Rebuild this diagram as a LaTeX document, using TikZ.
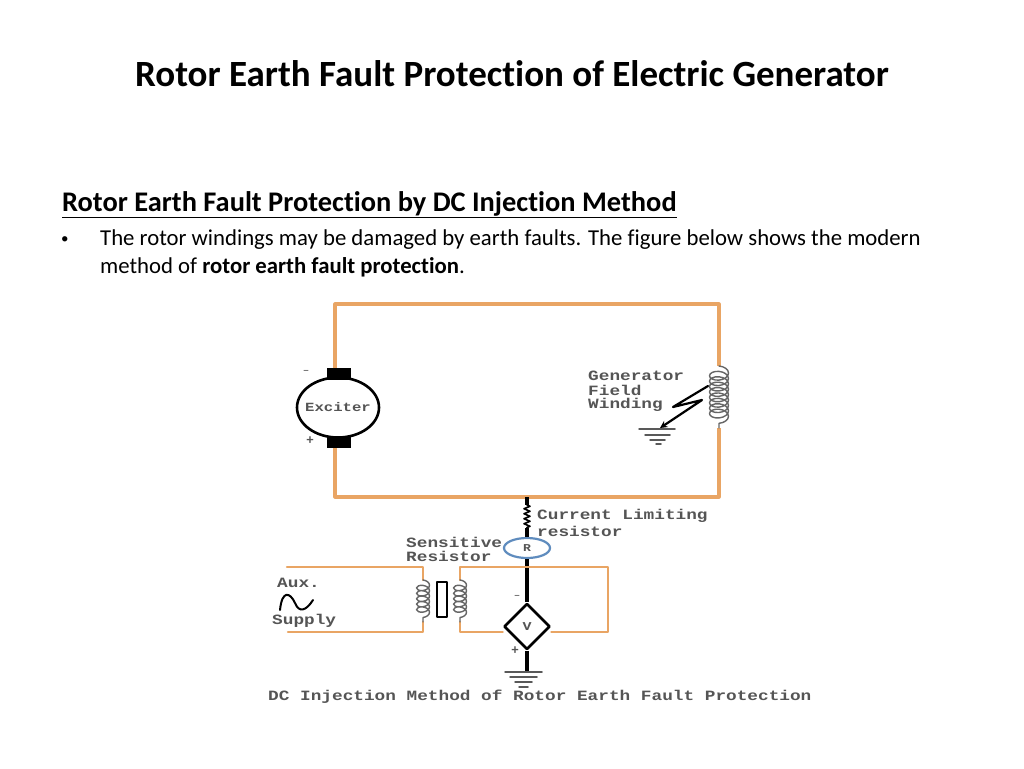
\documentclass[tikz,border=0pt]{standalone}
\usepackage{fontspec}
\setmainfont[Ligatures=NoCommon]{Carlito}
\newfontfamily\circfont[FakeStretch=1.25]{Liberation Mono}
\usetikzlibrary{shapes.geometric,decorations.pathmorphing}
\definecolor{wirecol}{RGB}{233,165,100}
\definecolor{labelcol}{RGB}{85,85,85}
\definecolor{relaycol}{RGB}{95,140,190}
\tikzset{
	wire/.style={draw=wirecol,line width=3.2pt,line cap=butt},
	thinwire/.style={draw=wirecol,line width=2.2pt},
	lead/.style={draw=black,line width=3.4pt,line cap=butt},
	circlabel/.style={font=\circfont\bfseries\fontsize{14.2}{14.2}\selectfont,text=labelcol,inner sep=0pt,anchor=west},
	brush/.style={fill=black,draw=none,minimum width=24pt,minimum height=11.5pt,inner sep=0pt},
	gnd/.style={draw=black!65,line width=1.5pt},
	woundcoil/.style={draw=black!60,line width=1.4pt,decorate,decoration={coil,aspect=.6,segment length=5.4pt,amplitude=#1}},
	bodytext/.style={font=\fontsize{22.75}{22.75}\selectfont,inner sep=0pt,anchor=base west}
}
\begin{document}
\begin{tikzpicture}[x=1pt,y=-1pt,line join=round,line cap=round,>=stealth]
	\useasboundingbox[fill=white] (0,0) rectangle (1024,768);
	% heading texts
	\node[font=\fontsize{37}{37}\selectfont\bfseries,inner sep=0pt] (title) at (512,74) {Rotor Earth Fault Protection of Electric Generator};
	\node[bodytext,font=\fontsize{28.4}{28.4}\selectfont\bfseries] (heading) at (62,211) {\underline{Rotor Earth Fault Protection by DC Injection Method}};
	\node[bodytext,font=\fontsize{15}{15}\selectfont] (bullet) at (61,243) {•};
	\node[bodytext] (lineone) at (100,245) {The rotor windings may be damaged by earth faults. The figure below shows the modern};
	\node[bodytext] (linetwo) at (100,273) {method of \textbf{rotor earth fault protection}.};
	% upper loop
	\node[draw,ellipse,line width=2.6pt,minimum width=82pt,minimum height=60pt,inner sep=0pt,label={[font=\circfont\bfseries\fontsize{12.5}{12.5}\selectfont,text=labelcol]center:Exciter}] (exciter) at (338,407.5) {};
	\node[brush] (brushtop) at (338.5,374) {};
	\node[brush] (brushbot) at (338.5,442.5) {};
	\coordinate (cornerA) at (335,304);
	\coordinate (cornerB) at (719,304);
	\coordinate (cornerC) at (719,497);
	\coordinate (cornerD) at (335,497);
	\coordinate (fieldtop) at (719,366);
	\coordinate (fieldbot) at (719,428);
	\coordinate (tap) at (527,497);
	\draw[wire] (brushtop.north-|cornerA) -- (cornerA) -- (cornerB) -- (fieldtop);
	\draw[wire] (fieldbot) -- (cornerC) -- (cornerD) -- (brushbot.south-|cornerD);
	\draw[woundcoil=9.5pt] (fieldtop) -- (fieldbot);
	\node[circlabel] (gentext) at (588,376) {Generator};
	\node[circlabel] (fieldtext) at (588,390) {Field};
	\node[circlabel] (windtext) at (588,405) {Winding};
	\coordinate (faultA) at (708,386);
	\coordinate (faultB) at (673,407);
	\coordinate (faultC) at (702,400);
	\coordinate (faultD) at (660,428);
	\draw[line width=2.2pt,->] (faultA) -- (faultB) -- (faultC) -- (faultD);
	\foreach \y/\a/\b in {429/639/675,435/645/670,440/650/665,444/656/661}
	\draw[gnd] (\a,\y) -- (\b,\y);
	\node[font=\fontsize{13}{13}\selectfont,text=labelcol,inner sep=0pt] (minusA) at (306,372) {--};
	\node[font=\fontsize{14}{14}\selectfont\bfseries,text=labelcol,inner sep=0pt] (plusA) at (310,441) {+};
	% lower branch
	\node[draw=relaycol,ellipse,line width=2.2pt,minimum width=46pt,minimum height=20pt,inner sep=0pt,font=\circfont\bfseries\fontsize{10.5}{10.5}\selectfont,text=labelcol] (relay) at (527,548) {R};
	\node[draw,diamond,line width=2.6pt,minimum width=46pt,minimum height=46pt,inner sep=0pt,font=\circfont\bfseries\fontsize{12}{12}\selectfont,text=labelcol] (meter) at (527,626.5) {V};
	\coordinate (resA) at (527,505);
	\coordinate (resB) at (527,528);
	\coordinate (gndtop) at (527,672);
	\draw[lead] (tap) -- (resA);
	\draw[line width=1.6pt,decorate,decoration={zigzag,amplitude=3pt,segment length=5pt}] (resA) -- (resB);
	\draw[lead] (resB) -- (relay.north);
	\draw[lead] (relay.south) -- (meter.north);
	\draw[lead] (meter.south) -- (gndtop);
	\foreach \y/\a/\b in {672/505/542,677/510/537,682/515/532,687/519/528}
	\draw[gnd] (\a,\y) -- (\b,\y);
	\node[circlabel] (currtext) at (537,516) {Current Limiting};
	\node[circlabel] (restext) at (537,531) {resistor};
	\node[circlabel] (senstext) at (406,542) {Sensitive};
	\node[circlabel] (sensres) at (406,556) {Resistor};
	\node[font=\fontsize{13}{13}\selectfont,text=labelcol,inner sep=0pt] (minusB) at (517,597) {--};
	\node[font=\fontsize{14}{14}\selectfont\bfseries,text=labelcol,inner sep=0pt] (plusB) at (515,651) {+};
	% transformer and secondary
	\coordinate (secA) at (460,567);
	\coordinate (secB) at (608,567);
	\coordinate (secC) at (608,632);
	\coordinate (secD) at (460,632);
	\coordinate (seccoilA) at (460,580);
	\coordinate (seccoilB) at (460,622);
	\draw[thinwire] (seccoilA) -- (secA) -- (secB) -- (secC) -- (meter.east|-secC);
	\draw[thinwire] (meter.west|-secD) -- (secD) -- (seccoilB);
	\draw[woundcoil=6.5pt] (seccoilA) -- (seccoilB);
	\coordinate (priA) at (287,567);
	\coordinate (priB) at (423,567);
	\coordinate (priC) at (423,632);
	\coordinate (priD) at (288,632);
	\coordinate (pricoilA) at (423,580);
	\coordinate (pricoilB) at (423,622);
	\draw[thinwire] (priA) -- (priB) -- (pricoilA);
	\draw[thinwire] (pricoilB) -- (priC) -- (priD);
	\draw[woundcoil=6.5pt] (pricoilA) -- (pricoilB);
	\node[draw,line width=1.8pt,minimum width=10pt,minimum height=35pt,inner sep=0pt] (core) at (442,599.5) {};
	% supply
	\node[circlabel] (auxtext) at (277,583) {Aux.};
	\node[circlabel] (suptext) at (272,621) {Supply};
	\coordinate (sineA) at (280,610);
	\coordinate (sineB) at (313,600);
	\draw[line width=2pt] (sineA) .. controls (282,590) and (290,592) .. (295,603) .. controls (299,613) and (306,611) .. (sineB);
	% caption
	\node[circlabel] (caption) at (268,696.5) {DC Injection Method of Rotor Earth Fault Protection};
\end{tikzpicture}
\end{document}
